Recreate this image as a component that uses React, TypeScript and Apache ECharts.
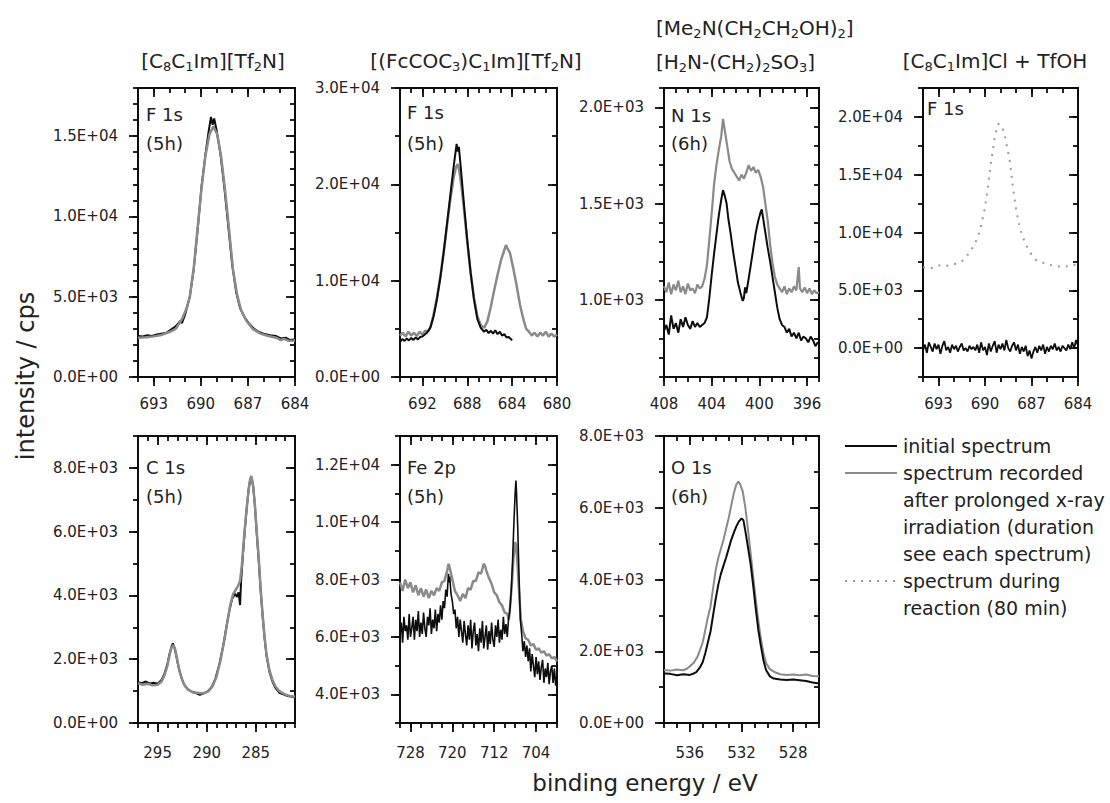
import React, { useEffect, useRef } from "react";
import * as echarts from "echarts";

type Pt = [number, number];

// ---------- Panel 1: F 1s, [C8C1Im][Tf2N] ----------
const c8F1sInitial: Pt[] = [
  [694.0, 2550], [693.7, 2520], [693.4, 2600], [693.1, 2560], [692.8, 2650], [692.5, 2700],
  [692.2, 2750], [691.9, 2950], [691.6, 3150], [691.3, 3500], [691.2, 3350], [691.0, 3900],
  [690.7, 5000], [690.45, 6700], [690.2, 9200], [689.95, 11900], [689.7, 13900], [689.5, 15300],
  [689.35, 16200], [689.25, 15700], [689.15, 16100], [689.0, 15400], [688.75, 13900], [688.5, 11800],
  [688.25, 9400], [688.0, 7000], [687.75, 5300], [687.5, 4300], [687.2, 3700], [686.9, 3300],
  [686.6, 3000], [686.3, 2800], [686.0, 2700], [685.6, 2600], [685.2, 2550], [684.9, 2400],
  [684.6, 2450], [684.3, 2300], [684.0, 2350],
];
const c8F1sIrradiated: Pt[] = [
  [694.0, 2450], [693.5, 2480], [693.0, 2530], [692.5, 2620], [692.0, 2800], [691.6, 3000],
  [691.2, 3600], [690.9, 4300], [690.7, 5000], [690.45, 6800], [690.2, 9300], [689.95, 11800],
  [689.7, 13800], [689.45, 15100], [689.2, 15600], [688.95, 15100], [688.7, 13700], [688.45, 11600],
  [688.2, 9200], [687.95, 6700], [687.7, 5200], [687.45, 4200], [687.1, 3500], [686.7, 3000],
  [686.2, 2700], [685.7, 2550], [685.2, 2450], [684.9, 2300], [684.7, 2380], [684.4, 2250], [684.0, 2280],
];

// ---------- Panel 2: F 1s, [(FcCOC3)C1Im][Tf2N] ----------
const fcF1sInitial: Pt[] = [
  [694.0, 3600], [693.8, 3950], [693.6, 3750], [693.4, 4000], [693.2, 3800], [693.0, 4050],
  [692.8, 3850], [692.6, 4100], [692.4, 3900], [692.2, 4150], [692.0, 4200], [691.6, 4600],
  [691.3, 5100], [691.0, 6300], [690.7, 8100], [690.4, 10300], [690.1, 13000], [689.8, 16000],
  [689.5, 19000], [689.2, 22000], [688.95, 24200], [688.85, 23400], [688.75, 23900], [688.6, 22000],
  [688.3, 18000], [688.0, 14200], [687.7, 10800], [687.4, 8000], [687.1, 6000], [686.8, 5100],
  [686.5, 4700], [686.3, 4900], [686.1, 4550], [685.9, 4800], [685.7, 4500], [685.5, 4850],
  [685.3, 4450], [685.1, 4700], [684.9, 4300], [684.7, 4450], [684.5, 4100], [684.3, 4150],
  [684.0, 3800],
];
const fcF1sIrradiated: Pt[] = [
  [694.0, 4300], [693.75, 4600], [693.5, 4200], [693.25, 4700], [693.0, 4300], [692.75, 4600],
  [692.5, 4250], [692.25, 4700], [692.0, 4400], [691.75, 4800], [691.5, 4700], [691.25, 5300],
  [691.0, 6500], [690.7, 8300], [690.4, 10500], [690.1, 13000], [689.8, 15800], [689.5, 18500],
  [689.2, 20800], [689.0, 21800], [688.85, 22100], [688.7, 21300], [688.5, 19600], [688.3, 17500],
  [688.0, 14000], [687.7, 10800], [687.4, 8200], [687.1, 6300], [686.8, 5400], [686.5, 5100],
  [686.2, 5800], [685.9, 7300], [685.6, 9000], [685.3, 10600], [685.0, 12100], [684.75, 13000],
  [684.55, 13700], [684.4, 13300], [684.2, 12900], [683.9, 11300], [683.6, 9500], [683.3, 7500],
  [683.0, 6000], [682.75, 5000], [682.5, 4700], [682.25, 4300], [682.0, 4600], [681.75, 4200],
  [681.5, 4600], [681.25, 4300], [681.0, 4700], [680.75, 4200], [680.5, 4500], [680.25, 4200],
  [680.0, 4400],
];

// ---------- Panel 3: N 1s, [Me2N(CH2CH2OH)2][H2N-(CH2)2SO3] ----------
const ilN1sInitial: Pt[] = [
  [408.0, 840], [407.8, 870], [407.6, 820], [407.4, 920], [407.2, 850], [407.0, 880],
  [406.8, 830], [406.6, 900], [406.4, 860], [406.2, 910], [406.0, 870], [405.8, 850],
  [405.6, 890], [405.4, 860], [405.2, 880], [405.0, 860], [404.8, 870], [404.6, 880],
  [404.4, 910], [404.2, 1010], [404.0, 1130], [403.8, 1240], [403.6, 1340], [403.4, 1440],
  [403.2, 1520], [403.05, 1570], [402.9, 1540], [402.75, 1500], [402.6, 1420], [402.4, 1340],
  [402.2, 1250], [402.0, 1170], [401.8, 1090], [401.6, 1040], [401.4, 995], [401.3, 1010],
  [401.2, 1065], [401.1, 1035], [400.9, 1110], [400.7, 1190], [400.5, 1270], [400.3, 1350],
  [400.1, 1410], [399.9, 1455], [399.8, 1470], [399.7, 1430], [399.5, 1350], [399.3, 1270],
  [399.1, 1200], [398.9, 1120], [398.7, 1040], [398.5, 960], [398.3, 900], [398.1, 870],
  [397.9, 860], [397.7, 830], [397.5, 850], [397.3, 810], [397.1, 830], [396.9, 800],
  [396.7, 830], [396.5, 790], [396.3, 810], [396.1, 800], [395.9, 780], [395.7, 810],
  [395.5, 790], [395.3, 760], [395.1, 780], [395.0, 770],
];
const ilN1sIrradiated: Pt[] = [
  [408.0, 1070], [407.8, 1040], [407.6, 1090], [407.4, 1030], [407.2, 1080], [407.0, 1050],
  [406.8, 1100], [406.6, 1040], [406.4, 1070], [406.2, 1030], [406.0, 1085], [405.8, 1050],
  [405.6, 1060], [405.4, 1035], [405.2, 1080], [405.0, 1060], [404.8, 1070], [404.6, 1110],
  [404.4, 1180], [404.2, 1310], [404.0, 1450], [403.8, 1600], [403.6, 1700], [403.4, 1780],
  [403.2, 1850], [403.05, 1940], [402.9, 1880], [402.7, 1800], [402.5, 1720], [402.3, 1680],
  [402.1, 1660], [401.9, 1640], [401.7, 1620], [401.5, 1650], [401.3, 1630], [401.1, 1660],
  [400.9, 1700], [400.7, 1670], [400.5, 1690], [400.3, 1660], [400.1, 1675], [399.9, 1640],
  [399.7, 1590], [399.5, 1500], [399.3, 1410], [399.1, 1290], [398.9, 1190], [398.7, 1120],
  [398.5, 1080], [398.3, 1060], [398.1, 1040], [397.9, 1070], [397.7, 1030], [397.5, 1060],
  [397.3, 1040], [397.1, 1070], [396.9, 1050], [396.7, 1170], [396.6, 1060], [396.4, 1040],
  [396.2, 1065], [396.0, 1035], [395.8, 1060], [395.6, 1030], [395.4, 1050], [395.2, 1035],
  [395.0, 1040],
];

// ---------- Panel 4: F 1s, [C8C1Im]Cl + TfOH ----------
const clF1sInitial: Pt[] = [
  [694.0, -200], [693.875, 300], [693.75, -400], [693.625, 500], [693.5, 100], [693.375, -300],
  [693.25, 400], [693.125, -100], [693.0, 300], [692.875, -500], [692.75, 200], [692.625, 600],
  [692.5, -200], [692.375, 100], [692.25, -400], [692.125, 300], [692.0, -100], [691.875, 200],
  [691.75, -300], [691.625, 100], [691.5, 400], [691.375, -200], [691.25, 0], [691.125, -300],
  [691.0, 200], [690.875, -100], [690.75, 100], [690.625, -200], [690.5, 300], [690.375, -400],
  [690.25, 500], [690.125, -200], [690.0, 100], [689.875, -600], [689.75, 400], [689.625, -300],
  [689.5, 200], [689.375, 600], [689.25, -400], [689.125, 300], [689.0, -100], [688.875, 400],
  [688.75, -200], [688.625, 700], [688.5, 0], [688.375, -300], [688.25, 200], [688.125, 500],
  [688.0, -200], [687.875, 300], [687.75, -500], [687.625, 100], [687.5, -300], [687.375, 200],
  [687.25, -700], [687.125, -200], [687.0, -900], [686.875, -300], [686.75, 100], [686.625, -400],
  [686.5, 200], [686.375, -200], [686.25, 300], [686.125, -500], [686.0, 100], [685.875, -300],
  [685.75, 200], [685.625, -100], [685.5, 400], [685.375, -200], [685.25, 100], [685.125, -300],
  [685.0, 200], [684.875, 0], [684.75, -200], [684.625, 300], [684.5, -100], [684.375, 500],
  [684.25, 0], [684.125, 700], [684.0, 200],
];
const clF1sReaction: Pt[] = [
  [694.0, 7000], [693.5, 6900], [693.0, 7150], [692.5, 7100], [692.0, 7250], [691.5, 7500],
  [691.2, 7900], [690.9, 8500], [690.7, 8900], [690.5, 9500], [690.3, 10300], [690.1, 11500],
  [690.0, 12200], [689.8, 14100], [689.6, 16200], [689.35, 18400], [689.15, 19400], [688.95, 19300],
  [688.75, 18600], [688.55, 17200], [688.4, 16200], [688.2, 13900], [688.0, 12100], [687.85, 11000],
  [687.6, 9700], [687.3, 8800], [687.0, 8100], [686.7, 7600], [686.3, 7400], [685.8, 7200],
  [685.4, 7100], [685.0, 7000], [684.6, 7100], [684.2, 7200], [684.0, 7300],
];

// ---------- Panel 5: C 1s, [C8C1Im][Tf2N] ----------
const c8C1sInitial: Pt[] = [
  [297.0, 1280], [296.6, 1250], [296.2, 1300], [295.8, 1240], [295.4, 1260], [295.0, 1230],
  [294.6, 1350], [294.3, 1550], [294.0, 1850], [293.8, 2150], [293.6, 2380], [293.45, 2500],
  [293.3, 2380], [293.1, 2100], [292.9, 1800], [292.6, 1450], [292.3, 1200], [291.9, 1050],
  [291.5, 980], [291.1, 940], [290.7, 880], [290.3, 930], [289.9, 990], [289.5, 1120],
  [289.1, 1400], [288.7, 1850], [288.3, 2450], [288.0, 3000], [287.7, 3500], [287.4, 3900],
  [287.1, 4050], [286.9, 3950], [286.75, 4100], [286.6, 3700], [286.5, 4400], [286.3, 5300],
  [286.1, 6100], [285.9, 6800], [285.7, 7400], [285.5, 7700], [285.4, 7650], [285.25, 7400],
  [285.1, 6850], [284.9, 5950], [284.7, 5100], [284.5, 4150], [284.3, 3350], [284.1, 2650],
  [283.9, 2100], [283.6, 1600], [283.3, 1300], [283.0, 1100], [282.6, 950], [282.2, 900],
  [281.8, 850], [281.4, 830], [281.0, 800],
];
const c8C1sIrradiated: Pt[] = [
  [297.0, 1250], [296.5, 1200], [296.0, 1230], [295.5, 1180], [295.0, 1200], [294.6, 1300],
  [294.3, 1500], [294.0, 1800], [293.8, 2100], [293.6, 2350], [293.4, 2450], [293.2, 2300],
  [293.0, 2000], [292.8, 1650], [292.5, 1350], [292.2, 1150], [291.8, 1030], [291.4, 960],
  [291.0, 950], [290.6, 930], [290.2, 940], [289.8, 1000], [289.4, 1150], [289.0, 1450],
  [288.6, 1950], [288.2, 2600], [287.9, 3150], [287.6, 3700], [287.3, 4050], [287.0, 4200],
  [286.8, 4300], [286.6, 4450], [286.4, 5000], [286.2, 5800], [286.0, 6500], [285.8, 7100],
  [285.6, 7600], [285.45, 7750], [285.3, 7500], [285.1, 6900], [284.9, 6000], [284.7, 5200],
  [284.5, 4200], [284.3, 3400], [284.1, 2700], [283.9, 2150], [283.6, 1650], [283.3, 1350],
  [283.0, 1150], [282.6, 1000], [282.2, 930], [281.8, 870], [281.4, 840], [281.0, 820],
];

// ---------- Panel 6: Fe 2p, [(FcCOC3)C1Im][Tf2N] ----------
const fcFe2pInitial: Pt[] = [
  [730.0, 6100], [729.75, 6500], [729.5, 5800], [729.25, 6700], [729.0, 6200], [728.75, 6400],
  [728.5, 5900], [728.25, 6800], [728.0, 6000], [727.75, 6300], [727.5, 6700], [727.25, 5900],
  [727.0, 6600], [726.75, 6200], [726.5, 6900], [726.25, 6000], [726.0, 6500], [725.75, 6100],
  [725.5, 6850], [725.25, 6300], [725.0, 6000], [724.75, 6700], [724.5, 6400], [724.25, 7000],
  [724.0, 6100], [723.75, 6600], [723.5, 6300], [723.25, 6950], [723.0, 6200], [722.75, 6800],
  [722.5, 6500], [722.25, 7100], [722.0, 6600], [721.75, 7250], [721.5, 7000], [721.25, 7650],
  [721.0, 7400], [720.75, 8200], [720.6, 7900], [720.5, 8100], [720.25, 7500], [720.0, 7250],
  [719.75, 6800], [719.5, 6950], [719.25, 6300], [719.0, 6700], [718.75, 6000], [718.5, 6600],
  [718.25, 6200], [718.0, 5800], [717.75, 6550], [717.5, 6100], [717.25, 5700], [717.0, 6400],
  [716.75, 5900], [716.5, 6600], [716.25, 5600], [716.0, 6200], [715.75, 6500], [715.5, 5700],
  [715.25, 6100], [715.0, 5500], [714.75, 6300], [714.5, 5800], [714.25, 6550], [714.0, 5600],
  [713.75, 6000], [713.5, 6400], [713.25, 5550], [713.0, 6200], [712.75, 5750], [712.5, 6500],
  [712.25, 5900], [712.0, 5650], [711.75, 6400], [711.5, 6000], [711.25, 6600], [711.0, 5800],
  [710.75, 6250], [710.5, 5900], [710.25, 6700], [710.0, 6100], [709.75, 6450], [709.5, 6000],
  [709.25, 6650], [709.0, 6900], [708.75, 7600], [708.5, 8600], [708.25, 9900], [708.0, 11000],
  [707.85, 11450], [707.75, 11100], [707.5, 9800], [707.25, 8100], [707.0, 6600], [706.75, 6100],
  [706.5, 5500], [706.25, 5850], [706.0, 5300], [705.75, 5700], [705.5, 5150], [705.25, 5600],
  [705.0, 4800], [704.75, 5400], [704.5, 5000], [704.25, 4600], [704.0, 5300], [703.75, 4700],
  [703.5, 5150], [703.25, 4500], [703.0, 4950], [702.75, 5200], [702.5, 4400], [702.25, 4900],
  [702.0, 4600], [701.75, 5100], [701.5, 4350], [701.25, 4800], [701.0, 5000], [700.75, 4400],
  [700.5, 4900], [700.25, 4300], [700.0, 4700],
];
const fcFe2pIrradiated: Pt[] = [
  [730.0, 7900], [729.5, 7600], [729.0, 8000], [728.5, 7700], [728.0, 7900], [727.5, 7550],
  [727.0, 7800], [726.5, 7450], [726.0, 7700], [725.5, 7400], [725.0, 7650], [724.5, 7350],
  [724.0, 7600], [723.5, 7450], [723.0, 7700], [722.5, 7600], [722.0, 7900], [721.5, 7950],
  [721.0, 8300], [720.7, 8550], [720.5, 8400], [720.0, 8000], [719.5, 7600], [719.0, 7450],
  [718.5, 7250], [718.0, 7500], [717.5, 7350], [717.0, 7700], [716.5, 7650], [716.0, 7950],
  [715.5, 7950], [715.0, 8250], [714.5, 8200], [714.0, 8550], [713.7, 8450], [713.5, 8300],
  [713.0, 8050], [712.5, 7850], [712.0, 7550], [711.5, 7450], [711.0, 7200], [710.5, 7100],
  [710.0, 6850], [709.5, 6800], [709.2, 6600], [709.0, 7000], [708.6, 7900], [708.3, 8800],
  [708.0, 9300], [707.8, 9200], [707.5, 8400], [707.2, 7400], [706.9, 6600], [706.5, 6200],
  [706.0, 5950], [705.5, 5900], [705.0, 5700], [704.5, 5750], [704.0, 5550], [703.5, 5600],
  [703.0, 5450], [702.5, 5500], [702.0, 5350], [701.5, 5400], [701.0, 5250], [700.5, 5300],
  [700.0, 5150],
];

// ---------- Panel 7: O 1s, [Me2N(CH2CH2OH)2][H2N-(CH2)2SO3] ----------
const ilO1sInitial: Pt[] = [
  [538.0, 1380], [537.5, 1370], [537.0, 1330], [536.5, 1360], [536.0, 1340], [535.7, 1380],
  [535.5, 1420], [535.2, 1560], [535.0, 1700], [534.8, 1950], [534.6, 2250], [534.4, 2550],
  [534.2, 3000], [534.0, 3450], [533.8, 3850], [533.6, 4150], [533.4, 4380], [533.2, 4600],
  [533.0, 4850], [532.8, 5100], [532.6, 5300], [532.4, 5480], [532.2, 5620], [532.0, 5700],
  [531.85, 5650], [531.7, 5350], [531.5, 4900], [531.3, 4450], [531.1, 3850], [530.9, 3200],
  [530.7, 2600], [530.5, 2150], [530.3, 1750], [530.1, 1480], [529.8, 1300], [529.5, 1240],
  [529.0, 1210], [528.5, 1200], [528.0, 1210], [527.5, 1190], [527.0, 1170], [526.5, 1130],
  [526.0, 1100],
];
const ilO1sIrradiated: Pt[] = [
  [538.0, 1480], [537.5, 1460], [537.0, 1490], [536.5, 1470], [536.2, 1520], [536.0, 1580],
  [535.7, 1680], [535.4, 1850], [535.2, 2050], [535.0, 2250], [534.8, 2600], [534.6, 2950],
  [534.4, 3250], [534.2, 3750], [534.0, 4250], [533.8, 4600], [533.6, 4850], [533.4, 5100],
  [533.2, 5400], [533.0, 5700], [532.8, 6050], [532.6, 6400], [532.4, 6650], [532.25, 6730],
  [532.1, 6650], [531.9, 6450], [531.7, 6000], [531.5, 5400], [531.3, 4750], [531.1, 4100],
  [530.9, 3450], [530.7, 2850], [530.5, 2350], [530.3, 1950], [530.1, 1670], [529.8, 1500],
  [529.5, 1430], [529.0, 1360], [528.5, 1340], [528.0, 1350], [527.5, 1330], [527.0, 1350],
  [526.5, 1310], [526.0, 1300],
];

// ---------- Tick label values ----------
const p1XTicks = [684, 687, 690, 693];
const p1YTicks = [0, 5000, 10000, 15000];
const p2XTicks = [680, 684, 688, 692];
const p2YTicks = [0, 10000, 20000, 30000];
const p3XTicks = [396, 400, 404, 408];
const p3YTicks = [1000, 1500, 2000];
const p4XTicks = [684, 687, 690, 693];
const p4YTicks = [0, 5000, 10000, 15000, 20000];
const p5XTicks = [285, 290, 295];
const p5YTicks = [0, 2000, 4000, 6000, 8000];
const p6XTicks = [704, 712, 720, 728];
const p6YTicks = [4000, 6000, 8000, 10000, 12000];
const p7XTicks = [528, 532, 536];
const p7YTicks = [0, 2000, 4000, 6000, 8000];

const legendLabels = [
  "initial spectrum",
  "spectrum recorded",
  "after prolonged x-ray",
  "irradiation (duration",
  "see each spectrum)",
  "spectrum during",
  "reaction (80 min)",
];

const FONT = "'DejaVu Sans', 'Liberation Sans', sans-serif";
const BLACK = "#0d0d0d";
const GRAY = "#8a8a8a";
const DOT_GRAY = "#9a9a9a";
const TEXT = "#222";

function steps(min: number, max: number, step: number): number[] {
  const out: number[] = [];
  for (let v = min; v <= max + 1e-9; v += step) out.push(Math.round(v * 1000) / 1000);
  return out;
}

function sci(v: number): string {
  const [m, e] = v.toExponential(1).split("e");
  const n = parseInt(e, 10);
  return `${m}E${n < 0 ? "-" : "+"}${String(Math.abs(n)).padStart(2, "0")}`;
}

interface SeriesDef { name: string; data: Pt[]; color: string; width: number; dash?: number[] }
interface Panel {
  grid: { left: number; top: number; width: number; height: number };
  x: [number, number]; xTicks: number[]; xMinor: number;
  y: [number, number]; yTicks: number[]; yMinor: number;
  xLabelMargin: number;
  series: SeriesDef[];
}

const panels: Panel[] = [
  {
    grid: { left: 138, top: 88, width: 157, height: 289 },
    x: [684, 694], xTicks: p1XTicks, xMinor: 1, y: [0, 18000], yTicks: p1YTicks, yMinor: 1000, xLabelMargin: 19,
    series: [
      { name: "initial spectrum", data: c8F1sInitial, color: BLACK, width: 2 },
      { name: "after x-ray irradiation", data: c8F1sIrradiated, color: GRAY, width: 2.5 },
    ],
  },
  {
    grid: { left: 400, top: 88, width: 157, height: 289 },
    x: [680, 694], xTicks: p2XTicks, xMinor: 1, y: [0, 30000], yTicks: p2YTicks, yMinor: 5000, xLabelMargin: 19,
    series: [
      { name: "after x-ray irradiation", data: fcF1sIrradiated, color: GRAY, width: 2.5 },
      { name: "initial spectrum", data: fcF1sInitial, color: BLACK, width: 2 },
    ],
  },
  {
    grid: { left: 664, top: 88, width: 155, height: 289 },
    x: [395, 408], xTicks: p3XTicks, xMinor: 1, y: [600, 2100], yTicks: p3YTicks, yMinor: 100, xLabelMargin: 19,
    series: [
      { name: "after x-ray irradiation", data: ilN1sIrradiated, color: GRAY, width: 2.2 },
      { name: "initial spectrum", data: ilN1sInitial, color: BLACK, width: 2 },
    ],
  },
  {
    grid: { left: 923, top: 88, width: 155, height: 289 },
    x: [684, 694], xTicks: p4XTicks, xMinor: 1, y: [-2500, 22500], yTicks: p4YTicks, yMinor: 2500, xLabelMargin: 19,
    series: [
      { name: "during reaction", data: clF1sReaction, color: DOT_GRAY, width: 2, dash: [2, 6] },
      { name: "initial spectrum", data: clF1sInitial, color: BLACK, width: 1.8 },
    ],
  },
  {
    grid: { left: 138, top: 436, width: 157, height: 287 },
    x: [281, 297], xTicks: p5XTicks, xMinor: 1, y: [0, 9000], yTicks: p5YTicks, yMinor: 1000, xLabelMargin: 22,
    series: [
      { name: "initial spectrum", data: c8C1sInitial, color: BLACK, width: 2 },
      { name: "after x-ray irradiation", data: c8C1sIrradiated, color: GRAY, width: 2.5 },
    ],
  },
  {
    grid: { left: 400, top: 436, width: 157, height: 287 },
    x: [700, 730], xTicks: p6XTicks, xMinor: 2, y: [3000, 13000], yTicks: p6YTicks, yMinor: 1000, xLabelMargin: 22,
    series: [
      { name: "after x-ray irradiation", data: fcFe2pIrradiated, color: GRAY, width: 2.5 },
      { name: "initial spectrum", data: fcFe2pInitial, color: BLACK, width: 1.6 },
    ],
  },
  {
    grid: { left: 664, top: 436, width: 155, height: 287 },
    x: [526, 538], xTicks: p7XTicks, xMinor: 1, y: [0, 8000], yTicks: p7YTicks, yMinor: 1000, xLabelMargin: 22,
    series: [
      { name: "after x-ray irradiation", data: ilO1sIrradiated, color: GRAY, width: 2 },
      { name: "initial spectrum", data: ilO1sInitial, color: BLACK, width: 2 },
    ],
  },
];

function buildOption() {
  const grids: any[] = [];
  const xAxes: any[] = [];
  const yAxes: any[] = [];
  const series: any[] = [];
  const MAJOR = 9;
  const MINOR = 5;

  panels.forEach((p, g) => {
    grids.push({ ...p.grid, containLabel: false, show: false });
    const base = (pos: string) => ({
      type: "value",
      gridIndex: g,
      position: pos,
      splitLine: { show: false },
      axisLine: { show: true, onZero: false, lineStyle: { color: BLACK, width: 2 } },
      axisLabel: { show: false },
      axisPointer: { show: false },
    });
    const tick = (vals: number[], len: number, inside: boolean) => ({
      show: true, customValues: vals, length: len, inside, lineStyle: { color: BLACK, width: 1.8 },
    });
    const xMin = p.x[0], xMax = p.x[1];
    const xMinorVals = steps(xMin, xMax, p.xMinor);
    const yMinorVals = steps(p.y[0], p.y[1], p.yMinor);
    const xc = { min: xMin, max: xMax, inverse: true };
    const yc = { min: p.y[0], max: p.y[1] };
    xAxes.push({
      ...base("bottom"), ...xc, axisTick: tick(p.xTicks, MAJOR, false),
      axisLabel: {
        show: true, customValues: p.xTicks, margin: p.xLabelMargin, fontSize: 15, fontFamily: FONT, color: TEXT,
        formatter: (v: number) => String(v),
      },
    });
    xAxes.push({ ...base("bottom"), ...xc, axisTick: tick(xMinorVals, MINOR, false) });
    xAxes.push({ ...base("top"), ...xc, axisTick: tick(p.xTicks, MAJOR, true) });
    xAxes.push({ ...base("top"), ...xc, axisTick: tick(xMinorVals, MINOR, true) });

    yAxes.push({
      ...base("left"), ...yc, axisTick: tick(p.yTicks, MAJOR, false),
      axisLabel: {
        show: true, customValues: p.yTicks, margin: 20, fontSize: 15, fontFamily: FONT, color: TEXT,
        formatter: (v: number) => sci(v),
      },
    });
    yAxes.push({ ...base("left"), ...yc, axisTick: tick(yMinorVals, MINOR, false) });
    yAxes.push({ ...base("right"), ...yc, axisTick: tick(p.yTicks, MAJOR, true) });
    yAxes.push({ ...base("right"), ...yc, axisTick: tick(yMinorVals, MINOR, true) });

    p.series.forEach((s) => {
      series.push({
        type: "line",
        name: s.name,
        xAxisIndex: g * 4,
        yAxisIndex: g * 4,
        data: s.data,
        showSymbol: false,
        symbol: "none",
        silent: true,
        lineStyle: { color: s.color, width: s.width, type: s.dash ? s.dash : "solid" },
      });
    });
  });

  const subRich = {
    s: { fontSize: 13, fontFamily: FONT, fill: TEXT, lineHeight: 10, verticalAlign: "bottom" },
  };
  const text = (x: number, y: number, str: string, size: number, align = "left", rich?: any, extra: any = {}) => ({
    type: "text",
    x, y, silent: true, ...extra,
    style: {
      text: str, fontSize: size, fontFamily: FONT, fill: TEXT,
      align, verticalAlign: "middle", textAlign: align, textVerticalAlign: "middle",
      lineHeight: rich ? 24 : undefined,
      rich,
    },
  });

  const graphics: any[] = [
    // panel titles
    text(213, 61, "[C{s|8}C{s|1}Im][Tf{s|2}N]", 20, "center", subRich),
    text(476, 61, "[(FcCOC{s|3})C{s|1}Im][Tf{s|2}N]", 20, "center", subRich),
    text(656, 28, "[Me{s|2}N(CH{s|2}CH{s|2}OH){s|2}]", 20, "left", subRich),
    text(656, 62, "[H{s|2}N-(CH{s|2}){s|2}SO{s|3}]", 20, "left", subRich),
    text(995, 61, "[C{s|8}C{s|1}Im]Cl + TfOH", 20, "center", subRich),
    // panel annotations
    text(146, 114, "F 1s", 18), text(146, 143, "(5h)", 18),
    text(407, 112, "F 1s", 18), text(407, 143, "(5h)", 18),
    text(671, 115, "N 1s", 18), text(671, 143, "(6h)", 18),
    text(927, 108, "F 1s", 18),
    text(146, 467, "C 1s", 18), text(146, 496, "(5h)", 18),
    text(407, 467, "Fe 2p", 18), text(407, 496, "(5h)", 18),
    text(671, 467, "O 1s", 18), text(671, 496, "(6h)", 18),
    // axis titles
    text(26, 376, "intensity / cps", 24, "center", undefined, { rotation: Math.PI / 2 }),
    text(645, 783, "binding energy / eV", 23, "center"),
    // legend
    { type: "line", silent: true, shape: { x1: 845, y1: 446, x2: 897, y2: 446 }, style: { stroke: BLACK, lineWidth: 2 } },
    { type: "line", silent: true, shape: { x1: 845, y1: 473, x2: 897, y2: 473 }, style: { stroke: GRAY, lineWidth: 2 } },
    { type: "line", silent: true, shape: { x1: 845, y1: 581, x2: 897, y2: 581 }, style: { stroke: DOT_GRAY, lineWidth: 2, lineDash: [2, 6] } },
  ];
  legendLabels.forEach((l, i) => {
    graphics.push(text(903, 446 + i * 27, l, 19));
  });

  return {
    animation: false,
    backgroundColor: "#ffffff",
    grid: grids,
    xAxis: xAxes,
    yAxis: yAxes,
    series,
    graphic: { elements: graphics },
  };
}

export default function App() {
  const ref = useRef<HTMLDivElement | null>(null);
  useEffect(() => {
    if (!ref.current) return;
    const chart = echarts.init(ref.current, undefined, { renderer: "svg" });
    chart.setOption(buildOption() as any);
    return () => {
      chart.dispose();
    };
  }, []);
  return (
    <div
      ref={ref}
      style={{ position: "fixed", left: 0, top: 0, width: 1110, height: 803, background: "#fff" }}
    />
  );
}
